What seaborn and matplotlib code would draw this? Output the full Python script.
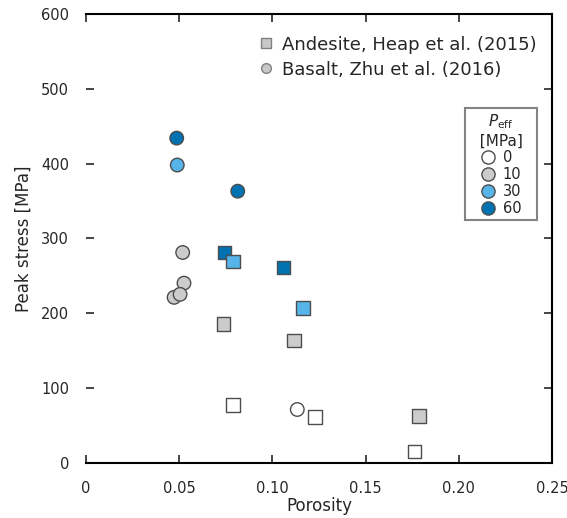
import pandas as pd
import matplotlib
matplotlib.use("Agg")
import matplotlib.pyplot as plt
from matplotlib.lines import Line2D
import seaborn as sns

sns.set_style("ticks")
plt.rcParams["font.family"] = ["DejaVu Sans"]

# Basalt, Zhu et al. (2016)
basalt_porosity = [0.0488, 0.0491, 0.0815, 0.0520, 0.0527, 0.0474, 0.0506, 0.1134]
basalt_stress = [434, 398, 363, 281, 240, 221, 225, 71]
basalt_peff = [60, 30, 60, 10, 10, 10, 10, 0]

# Andesite, Heap et al. (2015)
andesite_porosity = [0.0743, 0.0791, 0.1059, 0.1166, 0.0738, 0.1115, 0.0791, 0.1230, 0.1787, 0.1762]
andesite_stress = [281, 269, 261, 207, 185, 163, 77, 61, 62, 15]
andesite_peff = [60, 30, 60, 30, 10, 10, 0, 0, 10, 0]

peff_levels = [0, 10, 30, 60]
peff_colors = ["white", "#cccccc", "#56B4E9", "#0072B2"]
x_ticks = [0, 0.05, 0.10, 0.15, 0.20, 0.25]
x_labels = ["0", "0.05", "0.10", "0.15", "0.20", "0.25"]
y_ticks = [0, 100, 200, 300, 400, 500, 600]
y_labels = ["0", "100", "200", "300", "400", "500", "600"]

df = pd.DataFrame({
    "Porosity": basalt_porosity + andesite_porosity,
    "Stress": basalt_stress + andesite_stress,
    "Peff": basalt_peff + andesite_peff,
    "Rock": ["Basalt"] * len(basalt_porosity) + ["Andesite"] * len(andesite_porosity),
})

palette = dict(zip(peff_levels, peff_colors))

fig = plt.figure(figsize=(5.67, 5.18), dpi=100)
ax = fig.add_axes([0.151, 0.107, 0.823, 0.866])

sns.scatterplot(data=df, x="Porosity", y="Stress", hue="Peff", style="Rock",
                palette=palette, markers={"Basalt": "o", "Andesite": "s"},
                s=95, edgecolor="0.3", linewidth=1.0, legend=False, ax=ax, zorder=3)

ax.set_xlim(0, 0.25)
ax.set_ylim(0, 598)
ax.set_xticks(x_ticks)
ax.set_xticklabels(x_labels)
ax.set_yticks(y_ticks)
ax.set_yticklabels(y_labels)
ax.set_xlabel("Porosity", fontsize=12, labelpad=1)
ax.set_ylabel("Peak stress [MPa]", fontsize=12, labelpad=6)
ax.tick_params(direction="in", length=6, width=1.2, top=True, right=True, labelsize=10.5)
ax.tick_params(axis="x", pad=13)
ax.tick_params(axis="y", pad=12)

ax.spines["left"].set_visible(False)
for side in ["top", "right", "bottom"]:
    ax.spines[side].set_linewidth(1.5)
    ax.spines[side].set_color("black")

rock_handles = [
    Line2D([], [], marker="s", linestyle="none", markersize=7, markerfacecolor="#c8c8c8",
           markeredgecolor="0.5", label="Andesite, Heap et al. (2015)"),
    Line2D([], [], marker="o", linestyle="none", markersize=7, markerfacecolor="#c8c8c8",
           markeredgecolor="0.5", label="Basalt, Zhu et al. (2016)"),
]
leg1 = ax.legend(handles=rock_handles, loc="upper right", bbox_to_anchor=(0.975, 0.96),
                 frameon=False, fontsize=13, handletextpad=0.4, labelspacing=0.4,
                 borderaxespad=0, handlelength=1.0, borderpad=0.2)
ax.add_artist(leg1)

peff_handles = [
    Line2D([], [], marker="o", linestyle="none", markersize=9.5, markerfacecolor=c,
           markeredgecolor="0.3", label=str(p))
    for p, c in zip(peff_levels, peff_colors)
]
leg2 = ax.legend(handles=peff_handles, title="$P_{\\mathrm{eff}}$\n  [MPa]  ", loc="upper right",
                 bbox_to_anchor=(0.967, 0.79), fontsize=10.5, title_fontsize=11,
                 fancybox=False, edgecolor="0.4", handletextpad=0.5, labelspacing=0.12,
                 borderpad=0.3, handlelength=1.0, borderaxespad=0)
leg2.get_frame().set_linewidth(1.5)
leg2.get_title().set_multialignment("center")

fig.savefig("out.png", dpi=100)
